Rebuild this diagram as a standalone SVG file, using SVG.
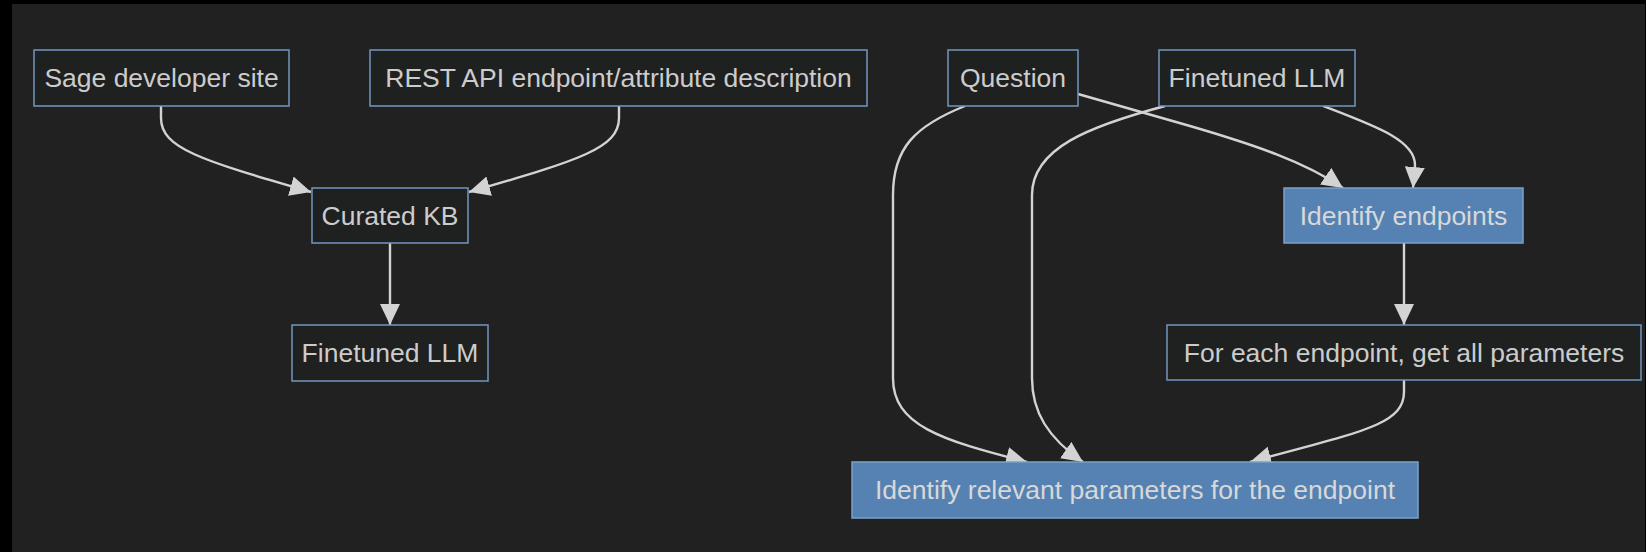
<svg xmlns="http://www.w3.org/2000/svg" width="1646" height="552" viewBox="0 0 1646 552">
  <style>
    .node rect { fill: #1f2020; stroke: #7396c0; stroke-width: 1.5; }
    .node.hl rect { fill: #5582b2; stroke: #7aa2cc; }
    .node text { font-family: "Liberation Sans", Arial, sans-serif; font-size: 26.5px; fill: #cccccc; text-anchor: middle; }
    .node.hl text { fill: #d8d8d8; }
    .edge { fill: none; stroke: #d3d3d3; stroke-width: 2.4; marker-end: url(#arrow); }
  </style>
  <defs>
    <marker id="arrow" markerUnits="userSpaceOnUse" viewBox="0 0 21 21" markerWidth="21" markerHeight="21" refX="21" refY="10.5" orient="auto">
      <path d="M0,0.5 L21,10.5 L0,20.5 z" fill="#d3d3d3"/>
    </marker>
  </defs>

  <!-- canvas -->
  <rect x="0" y="0" width="1646" height="552" fill="#000"/>
  <rect x="12" y="4" width="1633" height="548" fill="#212121"/>

  <!-- connectors -->
  <g id="edges">
    <path class="edge" d="M161,106 L161,118 C161,148 200,160 311,192"/>
    <path class="edge" d="M619,106 L619,118 C619,148 580,160 469,192"/>
    <path class="edge" d="M390,243 L390,325"/>
    <path class="edge" d="M1078,94 L1190,126 C1255,145 1305,162 1343,188"/>
    <path class="edge" d="M1323,106 C1375,126 1415,140 1415,165 L1413,188"/>
    <path class="edge" d="M1404,243 L1404,325"/>
    <path class="edge" d="M965,106 C915,126 893,148 893,195 L893,378 C893,425 940,440 1027,462"/>
    <path class="edge" d="M1165,106 C1090,126 1032,148 1032,195 L1032,378 C1032,412 1048,438 1083,462"/>
    <path class="edge" d="M1404,380 L1404,392 C1404,425 1360,432 1250,462"/>
  </g>

  <!-- nodes -->
  <g id="sage" class="node">
    <rect x="34" y="50" width="255" height="56"/>
    <text x="161.5" y="87">Sage developer site</text>
  </g>
  <g id="rest" class="node">
    <rect x="370" y="50" width="497" height="56"/>
    <text x="618.5" y="87">REST API endpoint/attribute description</text>
  </g>
  <g id="kb" class="node">
    <rect x="312" y="188" width="156" height="55"/>
    <text x="390" y="224.5">Curated KB</text>
  </g>
  <g id="llm1" class="node">
    <rect x="292" y="325" width="196" height="56"/>
    <text x="390" y="362">Finetuned LLM</text>
  </g>
  <g id="question" class="node">
    <rect x="948" y="50" width="130" height="56"/>
    <text x="1013" y="87">Question</text>
  </g>
  <g id="llm2" class="node">
    <rect x="1159" y="50" width="196" height="56"/>
    <text x="1257" y="87">Finetuned LLM</text>
  </g>
  <g id="endpoints" class="node hl">
    <rect x="1284" y="188" width="239" height="55"/>
    <text x="1403.5" y="224.5">Identify endpoints</text>
  </g>
  <g id="params" class="node">
    <rect x="1167" y="325" width="474" height="55"/>
    <text x="1404" y="362">For each endpoint, get all parameters</text>
  </g>
  <g id="relevant" class="node hl">
    <rect x="852" y="462" width="566" height="56"/>
    <text x="1135" y="499">Identify relevant parameters for the endpoint</text>
  </g>
</svg>
